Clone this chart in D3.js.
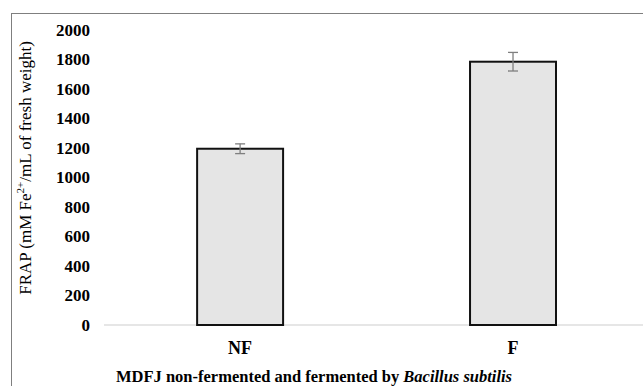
<!DOCTYPE html>
<html>
<head>
<meta charset="utf-8">
<script src="https://cdn.jsdelivr.net/npm/d3@7"></script>
<style>
  body { margin: 0; background: #fff; }
</style>
</head>
<body>
<svg id="chart" width="643" height="386"></svg>
<script>
const groups = ['NF', 'F'];
const frap = [1195, 1785];
const frapErr = [33, 63];
const yTicks = [0, 200, 400, 600, 800, 1000, 1200, 1400, 1600, 1800, 2000];

const width = 643, height = 386;
const svg = d3.select('#chart')
              .style('font-family', "'Times New Roman', 'Liberation Serif', 'DejaVu Serif', serif");

// outer frame (runs off the right and bottom edge)
svg.append('rect')
   .attr('x', 11.5).attr('y', 13.5)
   .attr('width', 700).attr('height', 400)
   .attr('fill', 'none').attr('stroke', '#7f7f7f').attr('stroke-width', 1);

const x = d3.scaleBand().domain(groups).range([104, 643])
            .paddingInner(0.685).paddingOuter(0.33).align(0.517);
const y = d3.scaleLinear().domain([0, 2000]).range([325, 30]);

// y tick labels
svg.append('g').selectAll('text')
   .data(yTicks).join('text')
   .attr('x', 90).attr('y', d => y(d))
   .attr('dy', '0.35em')
   .attr('text-anchor', 'end')
   .attr('font-weight', 'bold').attr('font-size', 17)
   .text(d => d);

// baseline
svg.append('line')
   .attr('x1', 104).attr('x2', 643)
   .attr('y1', y(0)).attr('y2', y(0))
   .attr('stroke', '#e6e6e6').attr('stroke-width', 2);

const data = groups.map((g, i) => ({ g, v: frap[i], e: frapErr[i] }));

svg.append('g').selectAll('rect')
   .data(data).join('rect')
   .attr('x', d => x(d.g)).attr('width', x.bandwidth())
   .attr('y', d => y(d.v)).attr('height', d => y(0) - y(d.v))
   .attr('fill', '#e5e5e5').attr('stroke', '#111').attr('stroke-width', 2);

// error bars
const eb = svg.append('g').attr('stroke', '#7f7f7f').attr('stroke-width', 1.3);
data.forEach(d => {
  const cx = x(d.g) + x.bandwidth() / 2;
  eb.append('line').attr('x1', cx).attr('x2', cx).attr('y1', y(d.v + d.e)).attr('y2', y(d.v - d.e));
  eb.append('line').attr('x1', cx - 5).attr('x2', cx + 5).attr('y1', y(d.v + d.e)).attr('y2', y(d.v + d.e));
  eb.append('line').attr('x1', cx - 5).attr('x2', cx + 5).attr('y1', y(d.v - d.e)).attr('y2', y(d.v - d.e));
});

// x labels
svg.append('g').selectAll('text')
   .data(groups).join('text')
   .attr('x', d => x(d) + x.bandwidth() / 2).attr('y', 354)
   .attr('text-anchor', 'middle')
   .attr('font-weight', 'bold').attr('font-size', 18)
   .text(d => d);

// x title
const xt = svg.append('text')
   .attr('x', 314).attr('y', 382)
   .attr('text-anchor', 'middle')
   .attr('font-weight', 'bold').attr('font-size', 16.5);
xt.append('tspan').text('MDFJ non-fermented and fermented by ');
xt.append('tspan').attr('font-style', 'italic').text('Bacillus subtilis');

// y title
const yt = svg.append('text')
   .attr('transform', 'translate(31,168) rotate(-90)')
   .attr('text-anchor', 'middle')
   .attr('font-size', 17);
yt.append('tspan').text('FRAP (mM Fe');
yt.append('tspan').attr('font-size', 11).attr('dy', -7).text('2+');
yt.append('tspan').attr('dy', 7).text('/mL of fresh weight)');
</script>
</body>
</html>
